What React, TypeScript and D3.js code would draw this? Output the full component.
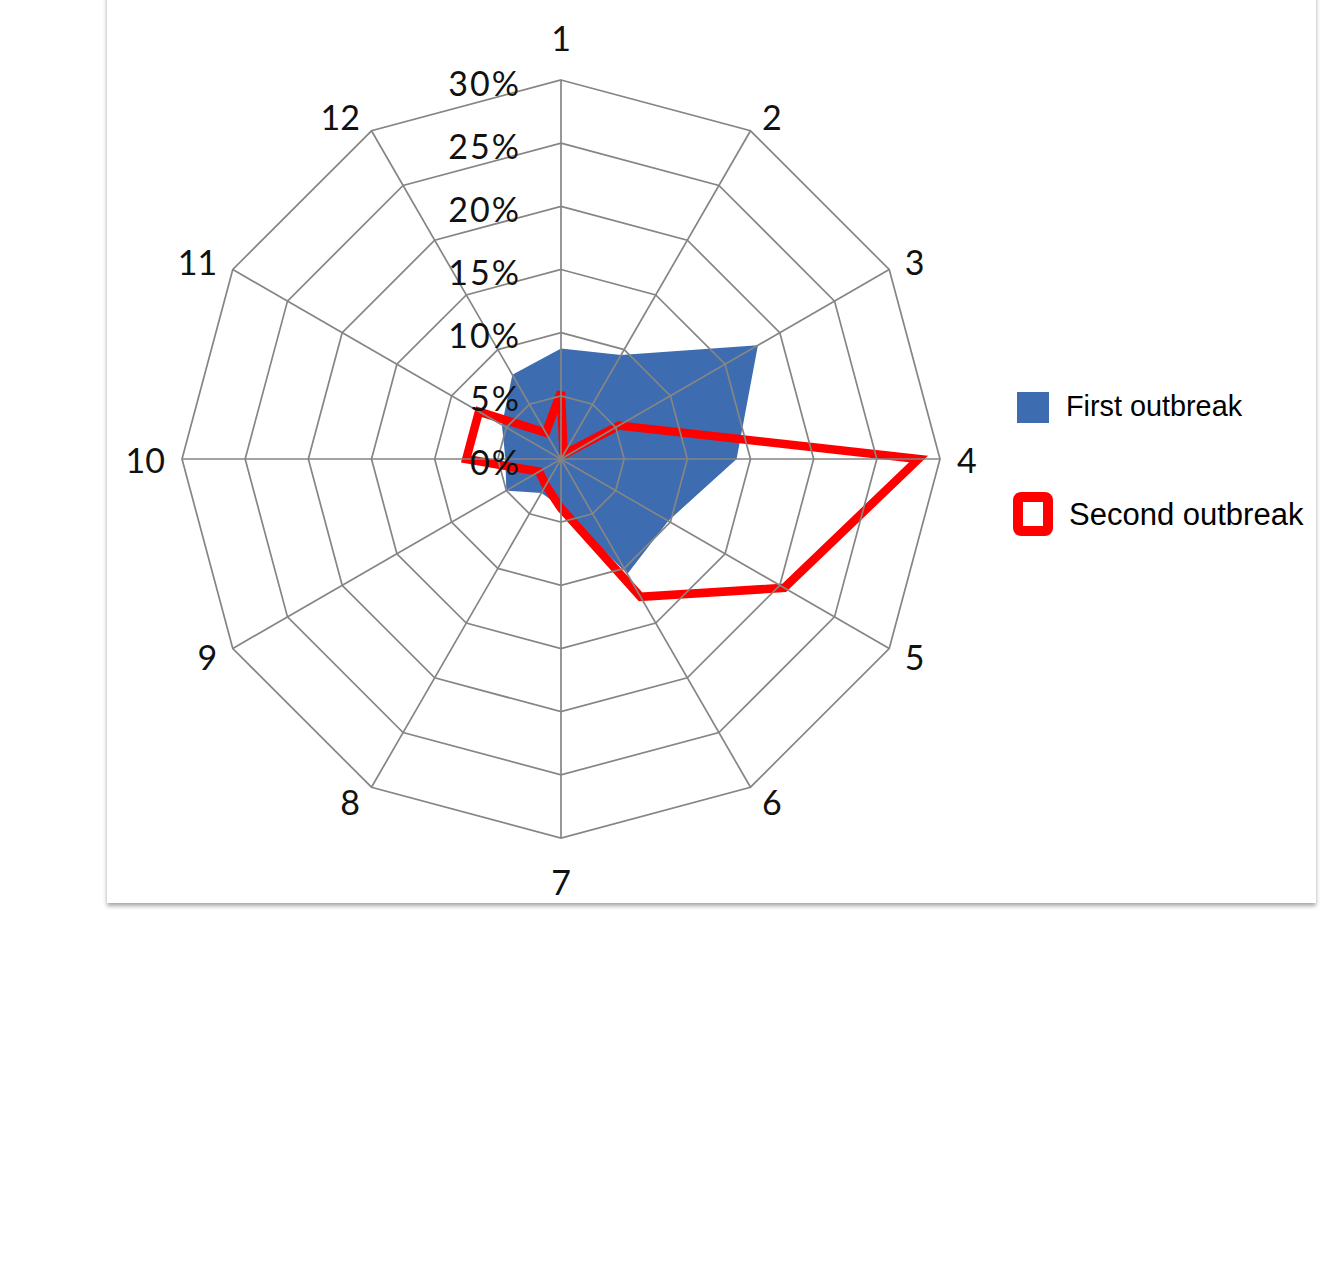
import React from "react";
import * as d3 from "d3";

const categories = ["1", "2", "3", "4", "5", "6", "7", "8", "9", "10", "11", "12"];
const firstOutbreak = [8.75, 9.5, 18.0, 13.9, 9.8, 10.5, 3.8, 3.1, 5.0, 4.4, 5.4, 7.7];
const secondOutbreak = [5.3, 0.4, 5.3, 28.3, 20.4, 12.6, 3.9, 2.4, 2.0, 7.5, 7.5, 2.4];
const ticks = [0, 5, 10, 15, 20, 25, 30];
const seriesNames = ["First outbreak", "Second outbreak"];

const W = 1323;
const H = 1270;
const cx = 561;
const cy = 459;
const R = 379;
const BLUE = "#3d6cb0";
const RED = "#ff0000";
const GRID = "#858585";

export default function App() {
  const r = d3.scaleLinear().domain([0, 30]).range([0, R]);
  const angle = (i: number) => (i * 2 * Math.PI) / categories.length;
  const pt = (i: number, v: number): [number, number] => [
    cx + r(v) * Math.sin(angle(i)),
    cy - r(v) * Math.cos(angle(i)),
  ];
  const radial = d3
    .lineRadial<number>()
    .angle((_, i) => angle(i))
    .radius((d) => r(d))
    .curve(d3.curveLinearClosed);

  const ringPath = (v: number) => radial(categories.map(() => v)) as string;

  return (
    <svg
      width={W}
      height={H}
      style={{ position: "absolute", left: 0, top: 0, background: "#fff" }}
    >
      <defs>
        <filter id="shadow" x="-5%" y="-5%" width="110%" height="110%">
          <feDropShadow dx="0" dy="3" stdDeviation="2" floodColor="#000" floodOpacity="0.35" />
        </filter>
      </defs>
      <rect x={107} y={-6} width={1209} height={909} fill="#fff" filter="url(#shadow)" />
      <g transform={`translate(${cx},${cy})`}>
        <path d={radial(firstOutbreak) as string} fill={BLUE} stroke="none" />
        <path
          d={radial(secondOutbreak) as string}
          fill="none"
          stroke={RED}
          strokeWidth={8.5}
          strokeLinejoin="miter"
        />
        {ticks.slice(1).map((t) => (
          <path key={t} d={ringPath(t)} fill="none" stroke={GRID} strokeWidth={1.7} />
        ))}
        {categories.map((c, i) => {
          const [x, y] = pt(i, 30);
          return (
            <line
              key={c}
              x1={0}
              y1={0}
              x2={x - cx}
              y2={y - cy}
              stroke={GRID}
              strokeWidth={1.7}
            />
          );
        })}
      </g>
      {categories.map((c, i) => {
        const [vx, vy] = pt(i, 30);
        const a = angle(i);
        const s = Math.sin(a);
        const co = Math.cos(a);
        let x = vx;
        let y = vy;
        let anchor: "start" | "middle" | "end" = "middle";
        if (Math.abs(s) < 0.01) {
          y = vy - Math.sign(co) * 43;
        } else {
          const gap = 6 + 11 * Math.abs(s);
          x = vx + Math.sign(s) * gap;
          y = vy - co * 16;
          anchor = s > 0 ? "start" : "end";
        }
        return (
          <text
            key={c}
            x={x}
            y={y}
            textAnchor={anchor}
            dominantBaseline="central"
            fontFamily="Lato"
            fontSize={34}
            fill="#111"
          >
            {c}
          </text>
        );
      })}
      {ticks.map((t) => (
        <text
          key={t}
          x={cx - 40}
          y={cy - r(t) + 2}
          textAnchor="end"
          dominantBaseline="central"
          fontFamily="Lato"
          fontSize={34}
          letterSpacing={2}
          fill="#111"
        >
          {`${t}%`}
        </text>
      ))}
      <rect x={1017} y={392} width={32} height={31} fill={BLUE} />
      <text x={1066} y={416} fontFamily="Liberation Sans" fontSize={28.8} fill="#000">
        {seriesNames[0]}
      </text>
      <rect x={1018} y={497} width={30} height={34} rx={3} fill="#fff" stroke={RED} strokeWidth={10} />
      <text x={1069} y={525} fontFamily="Liberation Sans" fontSize={31} fill="#000">
        {seriesNames[1]}
      </text>
    </svg>
  );
}
